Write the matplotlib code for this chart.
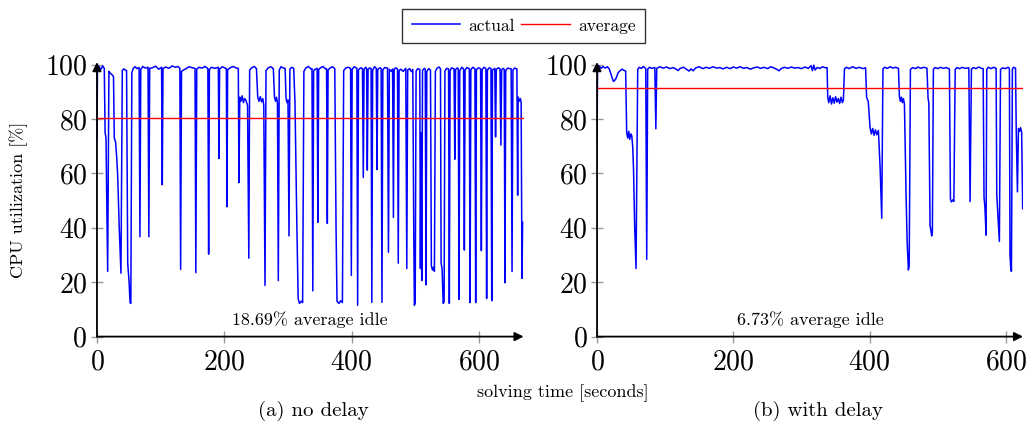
# cpu utilisation over solving time, with and without delay
import matplotlib
matplotlib.use("Agg")
import matplotlib.pyplot as plt

plt.rcParams["font.family"] = ["cmr10", "DejaVu Serif"]
plt.rcParams["mathtext.fontset"] = "cm"
plt.rcParams["axes.formatter.use_mathtext"] = True

# ---------- data (time [s], cpu [%]) ----------

nodelay_pts = [
    (0, 72), (0.8, 98.5), (3, 99.3), (6, 98.2), (9, 99.5), (11.5, 98.6),
    (12.8, 75), (14.2, 73), (16.8, 24), (18.8, 97.5),
    (21, 96.8), (24, 96.2), (26, 95.5),
    (27.2, 73), (29.3, 71.5), (31, 66), (32.5, 59.5), (35, 40), (37.7, 23.3), (39.8, 97.8),
    (42, 98.4), (44.5, 98), (46.5, 97.8),
    (48.3, 27), (50.5, 20), (52, 12.5), (53.2, 12.2), (54.8, 97),
    (57, 98.6), (60, 99.2), (63, 98.5), (66.2, 98.9), (67.5, 36.7), (68.8, 98.2),
    (72, 99.3), (76, 98.7), (80.2, 99), (81.5, 36.7), (82.8, 98.6),
    (87, 98.8), (92, 99.4), (97, 98.3), (101.5, 99), (102.6, 55.8), (103.7, 98.5),
    (108, 99.1), (113, 98.6), (118, 99.5), (123, 99), (127, 99.3), (130.2, 98.6),
    (131.4, 24.7), (132.8, 97.5),
    (136, 98), (140, 98.5), (145, 99.2), (150, 98.8), (154, 98.6), (155.3, 23.5), (156.7, 98.3),
    (160, 99), (165, 98.7), (170, 99.3), (174.2, 98.5), (175.4, 30.3), (176.6, 98.2),
    (180, 99), (185, 98.6), (190.6, 99), (191.6, 65.5), (192.6, 98.4),
    (197, 99.2), (203.2, 98.5), (204.2, 47.7), (205.2, 98),
    (209, 98.8), (214, 99.3), (219, 98.7), (222, 98.6), (223, 56.6), (224.3, 88),
    (226, 86.5), (228, 88.5), (230, 86), (232, 87.5), (234, 86.8), (236.5, 85),
    (238.5, 28.8), (239.8, 98),
    (243, 98.8), (247, 99.3), (250.5, 98.5), (252.5, 88), (254.5, 86.5), (256.5, 88.2),
    (258.5, 86.3), (260.5, 87.5), (262, 85), (263.9, 18.8), (265.5, 97.8),
    (269, 98.8), (273, 99.2), (277, 98.5), (278.8, 88), (280.5, 86.5), (282, 88), (283.5, 86),
    (284.8, 20.6), (286.3, 98),
    (289, 99.2), (293, 98.7), (295.5, 98.6), (297, 87.5), (298.5, 86), (300, 87),
    (301.6, 37), (303, 98.3),
    (306, 99), (309, 98.6), (311, 86), (314, 40), (316, 14), (318, 12.2), (321, 13),
    (323, 12.5), (325, 97.5),
    (328, 98.7), (332, 99.3), (336, 98.4), (337.7, 98.5), (339, 16.8), (340.3, 97.8),
    (343, 98.3), (345.8, 98.6), (347, 42), (348.2, 98.2),
    (351, 98.8), (355, 99.3), (359, 98.4), (360.6, 98.5), (361.8, 41.6), (363, 98),
    (366, 98.7), (370, 99.2), (373.5, 98.5), (375.5, 40), (377, 13), (380, 12.2), (383, 13.2),
    (385.5, 12.5), (387.5, 97.8),
    (391, 98.8), (395, 99), (398.3, 98.5), (399.5, 22.5), (400.8, 98.2), (404, 99.2),
    (408.2, 98.6), (409.4, 11.5), (410.7, 98),
    (414, 98.8), (417, 98.5), (418.3, 58.5), (419.5, 98.2), (422, 99), (423.5, 98.6),
    (424.6, 61.2), (425.8, 98.2), (428.5, 98.8), (430.5, 98.5), (431.7, 12.6), (433, 98),
    (436, 99.2), (438.7, 98.6), (439.8, 61.4), (441, 98.2), (444, 98.8), (446.3, 98.6),
    (447.6, 12.6), (449, 98.1),
    (452, 98.9), (456.3, 98.7), (457.8, 31), (459.2, 98.3), (462, 97.5), (464.3, 98.4),
    (465.6, 43.8), (466.8, 98.2),
    (469, 98.8), (472, 98.4), (473.2, 27), (474.5, 97.8), (477, 98.3), (481, 97.5),
    (485, 98.6), (486.6, 25), (488, 98),
    (491, 98.5), (494, 97.4), (496, 98.2), (497.5, 40), (498.5, 11.5), (499.8, 12.5),
    (501.2, 97.6),
    (504, 98.5), (507, 98.2), (508, 25), (508.9, 75), (510.1, 20.6), (511.3, 97.8),
    (514, 98.6), (515.6, 98.3), (516.8, 19), (518, 97.5),
    (521, 98.5), (523.8, 98), (525.2, 26), (527, 24.5), (528.5, 25.5), (530, 24), (531.5, 97.5),
    (534, 98.6), (537, 99.1), (539.5, 98.5), (540.5, 27), (542, 25), (543.8, 12.2),
    (545.2, 12.8), (546.5, 97.6),
    (549, 98.6), (552.2, 98.4), (553.4, 12.2), (554.6, 97.8),
    (557, 98.8), (560.8, 98.4), (562, 65.2), (563.2, 98.2), (566, 98.8), (567.4, 98.4),
    (568.6, 13.7), (569.8, 97.8),
    (573, 99), (575.8, 98.4), (577, 31.8), (578.2, 98), (581, 98.9), (584.8, 98.5),
    (586, 12.5), (587.2, 98),
    (590, 99), (593.6, 98.5), (594.8, 12.5), (596, 98.1), (599, 98.8), (602.5, 98.5),
    (603.7, 31.6), (604.9, 98.1),
    (608, 99), (610.8, 98.5), (612, 14), (613.2, 98), (616, 98.8), (618.8, 98.5),
    (620, 13.2), (621.2, 98), (624.8, 98.6), (626, 73.4), (627.2, 98.2),
    (630, 98.8), (633, 98.5), (634.4, 70.4), (635.6, 98), (638, 98.6), (639.6, 98.3),
    (640.8, 19.8), (642, 97.8),
    (645, 98.7), (650.5, 98.4), (651.9, 23.9), (653.3, 98), (656, 98.7), (659.5, 98.4),
    (660.7, 52), (661.5, 88), (663, 86.5), (665, 87.5), (666.2, 86), (667.5, 21.4),
    (668.5, 42),
]

delay_pts = [
    (0, 72), (0.8, 98.8), (3, 99.5), (6, 98.6), (9, 99.3), (12, 98.7), (15, 99.2),
    (18, 98.4), (21, 96), (24, 93.8), (26, 94.2), (28, 95), (31, 97), (34, 97.8),
    (37, 98.3), (40, 97.8), (42, 97.6),
    (43.5, 75), (45, 73), (46.5, 75.5), (48, 72.5), (49.5, 74.5), (51, 73.8), (52.3, 70),
    (53.5, 62), (55.3, 40), (57.2, 25), (59.7, 98.2),
    (62, 99), (65, 98.6), (68, 99.3), (71.5, 98.5), (72.9, 28.4), (74.3, 98.3),
    (77, 99), (80, 98.6), (84.8, 98.9), (86.3, 76.4), (87.6, 98.6),
    (92, 99.2), (97, 98.7), (102, 99.1), (107, 98.5), (112, 98.9), (116, 98.3), (119, 97.8),
    (122, 98.6), (127, 99), (131, 98.3), (135, 97.6), (138, 98.4), (141, 97.7), (145, 98.8),
    (150, 99.2), (155, 98.5), (160, 99), (165, 98.6), (170, 99.2), (175, 98.7), (180, 98.9),
    (185, 98.4), (190, 99), (195, 98.5), (200, 99.1), (205, 98.7), (210, 99.2), (215, 98.6),
    (220, 98.9), (225, 98.3), (230, 98.8), (235, 99.1), (240, 98.6), (245, 99), (250, 98.5),
    (255, 99.2), (260, 98.7), (264, 98.2), (267, 97.7), (270, 98.5), (275, 99), (280, 98.6),
    (285, 99.1), (290, 98.7), (295, 98.9), (300, 98.5), (305, 99.1), (310, 98.6),
    (314, 99.6), (316, 97.8), (318, 99.8), (320, 98), (323, 98.9), (327, 98.6), (331, 99.2),
    (335, 98.8), (337.5, 98.9),
    (338.5, 88), (340, 86), (342, 88.5), (344, 85.5), (346, 87.8), (348, 85.8), (350, 88.2),
    (352, 86.2), (354, 87.5), (356, 85.7), (358, 88), (360, 86), (361.5, 87), (363, 98.4),
    (366, 99), (370, 98.5), (375, 99.2), (380, 98.6), (385, 99), (390, 98.5), (394, 98.8),
    (395.5, 88), (398, 86.3), (400.5, 77), (402.5, 74.5), (404.5, 76.5), (406.5, 74),
    (408.5, 76), (410.5, 74.2), (412.8, 75.8), (415.3, 62.4), (417.7, 43.5), (419.5, 98.4),
    (422, 99), (426, 98.6), (430, 99.2), (434, 98.7), (438, 99), (442.3, 98.6),
    (443.6, 88.3), (445, 86.5), (446.5, 88), (448, 86), (449.5, 87.5), (451, 85.5),
    (453.4, 52.4), (455, 35), (456.8, 24.5), (458, 26), (459.8, 98.2),
    (463, 98.9), (467, 98.5), (471, 99.1), (475, 98.6), (479, 99), (484, 98.7),
    (485.7, 87.5), (486.8, 86), (488.6, 41), (491, 37), (492, 38.5), (493.5, 98.3),
    (496, 98.9), (500, 98.5), (504, 99), (508, 98.6), (512, 98.9), (517, 98.4),
    (518.5, 50.5), (520, 49.5), (522, 50.3), (523.5, 49.7), (525.5, 98.2),
    (528, 98.9), (532, 98.5), (536, 99), (540, 98.6), (545.5, 98.8), (547.3, 49.6),
    (549.3, 98.3),
    (552, 98.9), (556, 98.5), (560, 99.1), (564, 98.6), (566.5, 98.5),
    (567.8, 51), (569, 48), (570.8, 37.3), (571.8, 98.2),
    (574, 99), (578, 98.5), (582, 99), (585.5, 98.6),
    (586.5, 52), (588, 45), (590.3, 35), (592, 98.2),
    (595, 98.8), (599, 98.5), (603, 99), (605, 98.6),
    (605.9, 30), (607, 25), (608, 24), (609.4, 98.2),
    (611, 99), (614, 98.7),
    (615, 76.5), (616.8, 53.2), (618.3, 76.5), (620, 75.5), (621.5, 76.8), (623, 75),
    (624.5, 47),
]

nodelay_avg = 80.3
delay_avg = 91.4
nodelay_idle = "18.69% average idle"
delay_idle = "6.73% average idle"
xticks = [0, 200, 400, 600]
yticks = [0, 20, 40, 60, 80, 100]


# ---------- drawing ----------

def draw_panel(ax, pts, avg, idle_txt, xmax):
    t, v = zip(*pts)
    la, = ax.plot(t, v, color="#0000ff", lw=1.1, label="actual")
    lb = ax.axhline(avg, color="#ff0000", lw=1.0, label="average")

    ax.set_xlim(0, xmax)
    ax.set_ylim(0, 100.5)
    ax.set_xticks(xticks)
    ax.set_yticks(yticks)
    ax.tick_params(direction="inout", length=8, width=1, color="#999999",
                   labelsize=20, pad=3)
    ax.tick_params(axis="x", pad=5)

    for s in ax.spines.values():
        s.set_visible(False)
    # axis lines with arrow heads
    ap = dict(arrowstyle="-|>", color="black", lw=1.3, mutation_scale=13,
              shrinkA=0, shrinkB=0)
    ax.annotate("", xy=(1.0, 0), xytext=(0, 0), xycoords="axes fraction",
                arrowprops=ap, annotation_clip=False)
    ax.annotate("", xy=(0, 1.004), xytext=(0, 0), xycoords="axes fraction",
                arrowprops=ap, annotation_clip=False)

    ax.text(0.5, 0.03, idle_txt, transform=ax.transAxes, ha="center",
            va="bottom", fontsize=13)
    return la, lb


fig = plt.figure(figsize=(10.26, 4.25), dpi=100)
ax1 = fig.add_axes([0.0945, 0.208, 0.4158, 0.6433])
ax2 = fig.add_axes([0.5819, 0.208, 0.4152, 0.6433])

la, lb = draw_panel(ax1, nodelay_pts, nodelay_avg, nodelay_idle, 670)
draw_panel(ax2, delay_pts, delay_avg, delay_idle, 625)

fig.text(0.018, 0.53, "CPU utilization [%]", rotation=90, ha="center",
         va="center", fontsize=13)
fig.text(0.549, 0.075, "solving time [seconds]", ha="center", va="center",
         fontsize=13)
fig.text(0.305, 0.033, "(a) no delay", ha="center", va="center", fontsize=15)
fig.text(0.797, 0.033, "(b) with delay", ha="center", va="center", fontsize=15)

fig.legend([la, lb], ["actual", "average"], loc="upper center",
           bbox_to_anchor=(0.5102, 1.0), ncol=2, fontsize=12.5, frameon=True,
           fancybox=False, edgecolor="black", handlelength=2.8,
           columnspacing=0.4, handletextpad=0.45, borderpad=0.55)

fig.savefig("out.png", dpi=100)
